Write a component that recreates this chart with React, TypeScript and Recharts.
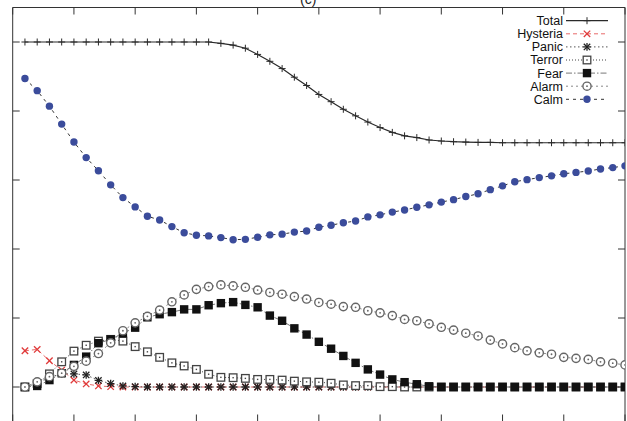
import React from 'react';
import { ComposedChart, Line, XAxis, YAxis, Legend } from 'recharts';

const steps = [1, 2, 3, 4, 5, 6, 7, 8, 9, 10, 11, 12, 13, 14, 15, 16, 17, 18, 19, 20, 21, 22, 23, 24, 25, 26, 27, 28, 29, 30, 31, 32, 33, 34, 35, 36, 37, 38, 39, 40, 41, 42, 43, 44, 45, 46, 47, 48, 49, 50];
const xTicks = [0, 5, 10, 15, 20, 25, 30, 35, 40, 45, 50];
const yTicks = [0, 0.2, 0.4, 0.6, 0.8, 1.0];

const total = [1, 1, 1, 1, 1, 1, 1, 1, 1, 1, 1, 1, 1, 1, 1, 1, 0.996, 0.991, 0.982, 0.964, 0.944, 0.923, 0.898, 0.874, 0.848, 0.827, 0.805, 0.786, 0.768, 0.752, 0.738, 0.728, 0.723, 0.716, 0.713, 0.711, 0.71, 0.709, 0.709, 0.708, 0.708, 0.708, 0.708, 0.708, 0.708, 0.708, 0.708, 0.708, 0.708, 0.708];
const hysteria = [0.105, 0.109, 0.076, 0.049, 0.02, 0.009, 0.003, 0.001, 0, 0, 0, 0, 0, 0, 0, 0, 0, 0, 0, 0, 0, 0, 0, 0, 0, 0, 0, 0, 0, 0, 0, 0, 0, 0, 0, 0, 0, 0, 0, 0, 0, 0, 0, 0, 0, 0, 0, 0, 0, 0];
const panic = [0, 0.01, 0.028, 0.038, 0.038, 0.035, 0.019, 0.01, 0.003, 0.001, 0, 0, 0, 0, 0, 0, 0, 0, 0, 0, 0, 0, 0, 0, 0, 0, 0, 0, 0, 0, 0, 0, 0, 0, 0, 0, 0, 0, 0, 0, 0, 0, 0, 0, 0, 0, 0, 0, 0, 0];
const terror = [0, 0.01, 0.038, 0.073, 0.104, 0.121, 0.133, 0.138, 0.133, 0.117, 0.102, 0.086, 0.07, 0.061, 0.051, 0.037, 0.028, 0.027, 0.025, 0.022, 0.022, 0.02, 0.017, 0.015, 0.014, 0.011, 0.006, 0.004, 0.004, 0.001, 0.001, 0, 0, 0, 0, 0, 0, 0, 0, 0, 0, 0, 0, 0, 0, 0, 0, 0, 0, 0];
const fear = [0, 0.003, 0.02, 0.04, 0.064, 0.088, 0.127, 0.138, 0.156, 0.172, 0.202, 0.211, 0.217, 0.225, 0.225, 0.237, 0.243, 0.246, 0.238, 0.231, 0.207, 0.192, 0.17, 0.152, 0.131, 0.111, 0.09, 0.07, 0.051, 0.036, 0.022, 0.014, 0.008, 0.002, 0, 0, 0, 0, 0, 0, 0, 0, 0, 0, 0, 0, 0, 0, 0, 0];
const alarm = [0, 0.015, 0.03, 0.04, 0.06, 0.075, 0.097, 0.128, 0.163, 0.186, 0.205, 0.223, 0.247, 0.267, 0.283, 0.291, 0.296, 0.293, 0.289, 0.281, 0.274, 0.269, 0.262, 0.255, 0.245, 0.24, 0.233, 0.231, 0.221, 0.215, 0.207, 0.196, 0.192, 0.183, 0.173, 0.165, 0.156, 0.148, 0.136, 0.125, 0.114, 0.105, 0.099, 0.095, 0.086, 0.083, 0.08, 0.073, 0.069, 0.064];
const calm = [0.894, 0.859, 0.814, 0.762, 0.71, 0.665, 0.627, 0.586, 0.549, 0.522, 0.495, 0.484, 0.465, 0.447, 0.44, 0.438, 0.433, 0.427, 0.428, 0.434, 0.441, 0.443, 0.449, 0.452, 0.463, 0.469, 0.476, 0.481, 0.493, 0.499, 0.507, 0.513, 0.521, 0.528, 0.536, 0.543, 0.552, 0.56, 0.572, 0.583, 0.595, 0.601, 0.607, 0.612, 0.618, 0.622, 0.626, 0.632, 0.636, 0.641];

const rows = steps.map((s, i) => ({
  step: s,
  total: total[i],
  hysteria: hysteria[i],
  panic: panic[i],
  terror: terror[i],
  fear: fear[i],
  alarm: alarm[i],
  calm: calm[i],
}));

type Kind = 'plus' | 'cross' | 'star' | 'openSquare' | 'square' | 'openCircle' | 'circle';

const series: { key: string; name: string; stroke: string; width: number; dash?: string; kind: Kind; color: string }[] = [
  { key: 'total', name: 'Total', stroke: '#2a2a2a', width: 1.2, kind: 'plus', color: '#2a2a2a' },
  { key: 'hysteria', name: 'Hysteria', stroke: '#e86a6a', width: 1, dash: '4 3', kind: 'cross', color: '#e03a3a' },
  { key: 'panic', name: 'Panic', stroke: '#555', width: 1, dash: '1.5 2.5', kind: 'star', color: '#222' },
  { key: 'terror', name: 'Terror', stroke: '#444', width: 1, dash: '1 2', kind: 'openSquare', color: '#444' },
  { key: 'fear', name: 'Fear', stroke: '#777', width: 1, dash: '6 2 1.5 2', kind: 'square', color: '#111' },
  { key: 'alarm', name: 'Alarm', stroke: '#888', width: 1, dash: '2 3', kind: 'openCircle', color: '#666' },
  { key: 'calm', name: 'Calm', stroke: '#333', width: 1, dash: '3 4', kind: 'circle', color: '#3b4c9b' },
];

function Marker({ kind, cx, cy, color }: { kind: Kind; cx: number; cy: number; color: string }) {
  if (cx == null || cy == null || isNaN(cx) || isNaN(cy)) return <g />;
  switch (kind) {
    case 'plus':
      return (
        <g stroke={color} strokeWidth={1}>
          <line x1={cx - 3.5} y1={cy} x2={cx + 3.5} y2={cy} />
          <line x1={cx} y1={cy - 3.5} x2={cx} y2={cy + 3.5} />
        </g>
      );
    case 'cross':
      return (
        <g stroke={color} strokeWidth={1.3}>
          <line x1={cx - 3.2} y1={cy - 3.2} x2={cx + 3.2} y2={cy + 3.2} />
          <line x1={cx - 3.2} y1={cy + 3.2} x2={cx + 3.2} y2={cy - 3.2} />
        </g>
      );
    case 'star':
      return (
        <g stroke={color} strokeWidth={1.3}>
          <line x1={cx - 3.2} y1={cy - 3.2} x2={cx + 3.2} y2={cy + 3.2} />
          <line x1={cx - 3.2} y1={cy + 3.2} x2={cx + 3.2} y2={cy - 3.2} />
          <line x1={cx - 3.8} y1={cy} x2={cx + 3.8} y2={cy} />
          <line x1={cx} y1={cy - 3.8} x2={cx} y2={cy + 3.8} />
        </g>
      );
    case 'openSquare':
      return (
        <g>
          <rect x={cx - 3.8} y={cy - 3.8} width={7.6} height={7.6} fill="#fff" stroke={color} strokeWidth={1.3} />
          <rect x={cx - 0.7} y={cy - 0.7} width={1.4} height={1.4} fill={color} />
        </g>
      );
    case 'square':
      return <rect x={cx - 4.2} y={cy - 4.2} width={8.4} height={8.4} fill={color} />;
    case 'openCircle':
      return (
        <g>
          <circle cx={cx} cy={cy} r={4.1} fill="#fff" stroke={color} strokeWidth={1.4} />
          <circle cx={cx} cy={cy} r={0.9} fill={color} />
        </g>
      );
    case 'circle':
    default:
      return <circle cx={cx} cy={cy} r={3.7} fill={color} />;
  }
}

const makeDot = (kind: Kind, color: string) => (p: any) => (
  <Marker key={`m-${p.index}`} kind={kind} cx={p.cx} cy={p.cy} color={color} />
);

const EmptyTick = () => <g />;

function LegendBox() {
  const textRight = 93;
  const lx1 = 96;
  const lx2 = 138;
  return (
    <svg width={150} height={100} style={{ overflow: 'visible' }}>
      {series.map((s, i) => {
        const cy = 8.7 + 13.1 * i;
        return (
          <g key={s.key}>
            <text
              x={textRight}
              y={cy + 4.4}
              textAnchor="end"
              fontFamily="'Liberation Sans', Arial, sans-serif"
              fontSize={12.5}
              fill="#111"
            >
              {s.name}
            </text>
            <line x1={lx1} y1={cy} x2={lx2} y2={cy} stroke={s.stroke} strokeWidth={s.width} strokeDasharray={s.dash} />
            <Marker kind={s.kind} cx={(lx1 + lx2) / 2} cy={cy} color={s.color} />
          </g>
        );
      })}
    </svg>
  );
}

const axisCommon = {
  allowDataOverflow: true,
  mirror: true,
  tick: EmptyTick,
  tickSize: 7,
  interval: 0 as const,
  axisLine: { stroke: '#333', strokeWidth: 1 },
  tickLine: { stroke: '#333', strokeWidth: 1 },
};

export default function App() {
  return (
    <div style={{ position: 'absolute', left: 0, top: 0, width: 627, height: 421, overflow: 'hidden', background: '#fff' }}>
      <div
        style={{
          position: 'absolute',
          left: 300,
          top: -9,
          fontFamily: "'Liberation Sans', Arial, sans-serif",
          fontSize: 14,
          color: '#222',
          lineHeight: '16px',
        }}
      >
        (c)
      </div>
      <ComposedChart width={627} height={423} data={rows} margin={{ top: 7.5, right: 2, bottom: 1.5, left: 12.7 }}>
        <XAxis xAxisId="b" dataKey="step" type="number" domain={[0, 50]} ticks={xTicks} {...axisCommon} />
        <XAxis xAxisId="t" dataKey="step" orientation="top" type="number" domain={[0, 50]} ticks={xTicks} {...axisCommon} />
        <YAxis yAxisId="l" type="number" domain={[-0.1, 1.1]} ticks={yTicks} {...axisCommon} />
        <YAxis yAxisId="r" orientation="right" type="number" domain={[-0.1, 1.1]} ticks={yTicks} {...axisCommon} />
        {series.map((s) => (
          <Line
            key={s.key}
            xAxisId="b"
            yAxisId="l"
            type="linear"
            dataKey={s.key}
            name={s.name}
            stroke={s.stroke}
            strokeWidth={s.width}
            strokeDasharray={s.dash}
            dot={makeDot(s.kind, s.color)}
            activeDot={false}
            isAnimationActive={false}
          />
        ))}
        <Legend
          layout="vertical"
          align="center"
          verticalAlign="middle"
          wrapperStyle={{ left: 470, top: 12, width: 150, height: 100 }}
          content={() => <LegendBox />}
        />
      </ComposedChart>
    </div>
  );
}
